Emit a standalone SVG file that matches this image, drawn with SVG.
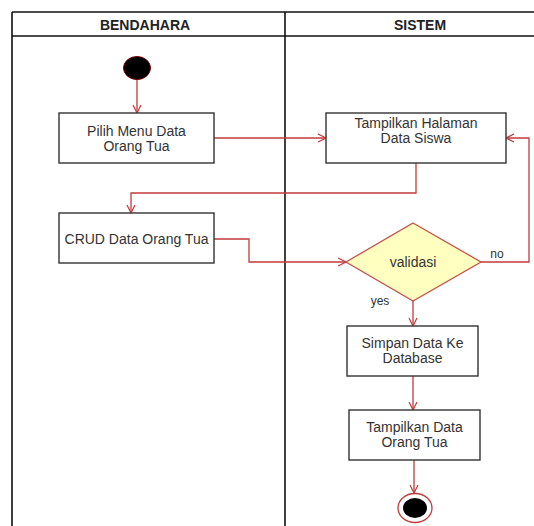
<svg xmlns="http://www.w3.org/2000/svg" width="534" height="526" viewBox="0 0 534 526">
<defs>
<marker id="arr" markerWidth="10" markerHeight="10" refX="9" refY="5" orient="auto" markerUnits="userSpaceOnUse">
<path d="M1,1 L9,5 L1,9" fill="none" stroke="#c23b3b" stroke-width="1.2"/>
</marker>
<style>
.lane{stroke:#111;stroke-width:1.6;fill:none}
.box{fill:#fff;stroke:#333;stroke-width:1.4}
.t{font-family:"Liberation Sans",Arial,sans-serif;font-size:14px;fill:#333;text-anchor:middle}
.h{font-family:"Liberation Sans",Arial,sans-serif;font-size:14px;font-weight:bold;fill:#222;text-anchor:middle}
.s{font-family:"Liberation Sans",Arial,sans-serif;font-size:12px;fill:#333;text-anchor:middle}
.c{fill:none;stroke:#c23b3b;stroke-width:1.3;marker-end:url(#arr)}
</style>
</defs>
<rect width="534" height="526" fill="#fff"/>
<g id="lanes">
<path class="lane" d="M12,12 H534 M12,36 H534 M12,12 V526 M285,12 V526"/>
<text class="h" x="145" y="30">BENDAHARA</text>
<text class="h" x="420" y="30">SISTEM</text>
</g>
<g id="connectors">
<path class="c" d="M137,80 V113"/>
<path class="c" d="M214,138 H326"/>
<path class="c" d="M416,163 V193 H131 V213"/>
<path class="c" d="M214,239 H249 V262 H346"/>
<path class="c" d="M481,262 H529 V138 H506"/>
<path class="c" d="M413,301 V326"/>
<path class="c" d="M413,376 V410"/>
<path class="c" d="M414,460 V493"/>
<rect x="489" y="248" width="17" height="13" fill="#fff"/>
<text class="s" x="497" y="258">no</text>
<text class="s" x="380" y="305">yes</text>
</g>
<g id="start">
<ellipse cx="137" cy="68" rx="13.5" ry="11.5" fill="#000" stroke="#700" stroke-width="1"/>
</g>
<g id="pilih">
<rect class="box" x="59" y="113" width="155" height="50"/>
<text class="t" x="136.5" y="136">Pilih Menu Data</text>
<text class="t" x="136.5" y="151">Orang Tua</text>
</g>
<g id="halaman">
<rect class="box" x="326" y="113" width="180" height="50"/>
<text class="t" x="416" y="128">Tampilkan Halaman</text>
<text class="t" x="416" y="143">Data Siswa</text>
</g>
<g id="crud">
<rect class="box" x="59" y="213" width="155" height="50"/>
<text class="t" x="136.5" y="244">CRUD Data Orang Tua</text>
</g>
<g id="validasi">
<polygon points="413,223 481,262 413,301 346,262" fill="#ffffc0" stroke="#c8504a" stroke-width="1.3"/>
<text class="t" x="413" y="267">validasi</text>
</g>
<g id="simpan">
<rect class="box" x="347" y="326" width="131" height="50"/>
<text class="t" x="412.5" y="348">Simpan Data Ke</text>
<text class="t" x="412.5" y="363">Database</text>
</g>
<g id="tampil">
<rect class="box" x="349" y="410" width="131" height="50"/>
<text class="t" x="414.5" y="432">Tampilkan Data</text>
<text class="t" x="414.5" y="447">Orang Tua</text>
</g>
<g id="end">
<ellipse cx="415" cy="508" rx="17" ry="14.5" fill="#fff" stroke="#c23b3b" stroke-width="1.3"/>
<ellipse cx="415" cy="508" rx="12" ry="10" fill="#000"/>
</g>
</svg>
